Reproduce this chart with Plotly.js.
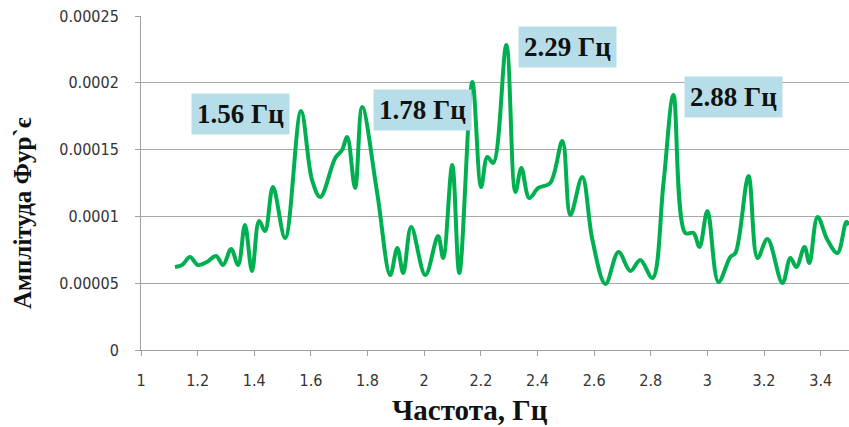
<!DOCTYPE html>
<html>
<head>
<meta charset="utf-8">
<script src="https://cdn.plot.ly/plotly-3.0.1.min.js"></script>
<style>
  html, body { margin: 0; padding: 0; background: #ffffff; }
  #chart { width: 849px; height: 427px; }
</style>
</head>
<body>
<div id="chart"></div>
<script>
// Fourier amplitude spectrum, frequency in Hz
const freq = [
  1.120, 1.145, 1.173, 1.201, 1.233, 1.265, 1.290, 1.318, 1.343, 1.367,
  1.392, 1.417, 1.438, 1.466, 1.509, 1.565, 1.604, 1.633, 1.686, 1.710,
  1.728, 1.756, 1.781, 1.834, 1.880, 1.905, 1.926, 1.954, 2.004, 2.049,
  2.067, 2.099, 2.124, 2.170, 2.201, 2.223, 2.244, 2.290, 2.322, 2.343,
  2.371, 2.403, 2.445, 2.488, 2.516, 2.558, 2.594, 2.640, 2.686, 2.728,
  2.763, 2.806, 2.845, 2.880, 2.922, 2.951, 2.972, 3.000, 3.039, 3.081,
  3.099, 3.145, 3.177, 3.212, 3.265, 3.293, 3.314, 3.343, 3.360, 3.389,
  3.424, 3.459, 3.491, 3.500
];
const amplitude = [
  6.21e-5, 6.36e-5, 6.96e-5, 6.36e-5, 6.59e-5, 7.04e-5, 6.36e-5, 7.56e-5, 6.36e-5, 9.36e-5,
  5.91e-5, 9.66e-5, 8.91e-5, 1.22e-4, 8.38e-5, 1.789e-4, 1.272e-4, 1.145e-4, 1.437e-4, 1.497e-4,
  1.594e-4, 1.213e-4, 1.819e-4, 1.175e-4, 5.61e-5, 7.63e-5, 5.76e-5, 9.21e-5, 5.61e-5, 8.53e-5,
  6.89e-5, 1.385e-4, 5.76e-5, 2.006e-4, 1.22e-4, 1.445e-4, 1.40e-4, 2.283e-4, 1.183e-4, 1.362e-4,
  1.138e-4, 1.213e-4, 1.25e-4, 1.564e-4, 1.01e-4, 1.295e-4, 8.23e-5, 4.94e-5, 7.34e-5, 5.91e-5,
  6.74e-5, 5.39e-5, 1.25e-4, 1.909e-4, 8.76e-5, 8.76e-5, 7.71e-5, 1.04e-4, 5.09e-5, 6.96e-5,
  7.26e-5, 1.302e-4, 6.89e-5, 8.31e-5, 5.01e-5, 6.89e-5, 6.21e-5, 7.71e-5, 6.51e-5, 9.96e-5,
  8.23e-5, 7.26e-5, 9.58e-5, 9.36e-5
];

// Axis ticks
const xTicks = [1, 1.2, 1.4, 1.6, 1.8, 2, 2.2, 2.4, 2.6, 2.8, 3, 3.2, 3.4];
const xTickText = ['1', '1.2', '1.4', '1.6', '1.8', '2', '2.2', '2.4', '2.6', '2.8', '3', '3.2', '3.4'];
const yTicks = [0, 0.00005, 0.0001, 0.00015, 0.0002, 0.00025];
const yTickText = ['0', '0.00005', '0.0001', '0.00015', '0.0002', '0.00025'];

// Axis titles
const xTitle = 'Частота, Гц';
const yTitle = 'Амплітуда Фур`є';

// Labelled peaks: text and box centre
const peakLabels = ['1.56 Гц', '1.78 Гц', '2.29 Гц', '2.88 Гц'];
const labelX = [1.350, 1.993, 2.505, 3.092];
const labelY = [1.766e-4, 1.796e-4, 2.268e-4, 1.894e-4];

const tickFont = { family: '"Liberation Sans Narrow", "DejaVu Sans Condensed", "Open Sans", sans-serif', size: 16, color: '#333333' };
const serifBold = '"Liberation Serif", "DejaVu Serif", serif';

const trace = {
  x: freq,
  y: amplitude,
  type: 'scatter',
  mode: 'lines',
  line: { color: '#00b050', width: 4, shape: 'spline', smoothing: 1 },
  hoverinfo: 'x+y'
};

const annotations = peakLabels.map((t, i) => ({
  x: labelX[i], y: labelY[i], xref: 'x', yref: 'y',
  text: '<b>' + t + '</b>',
  showarrow: false,
  bgcolor: '#b7dee8',
  borderpad: 5,
  font: { family: serifBold, size: 27, color: '#111111' }
}));

// Axis titles sit slightly off the plot centre, so they are placed as paper annotations
annotations.push({
  xref: 'paper', yref: 'paper', x: 0.4647, y: -0.18,
  xanchor: 'center', yanchor: 'middle', showarrow: false,
  text: '<b>' + xTitle + '</b>',
  font: { family: serifBold, size: 29, color: '#111111' }
});
annotations.push({
  xref: 'paper', yref: 'paper', x: -0.168, y: 0.41,
  xanchor: 'center', yanchor: 'middle', showarrow: false, textangle: -90,
  text: '<b>' + yTitle + '</b>',
  font: { family: serifBold, size: 25, color: '#111111' }
});

const layout = {
  width: 849, height: 427,
  margin: { l: 141, r: 0, t: 16, b: 77 },
  paper_bgcolor: '#ffffff',
  plot_bgcolor: '#ffffff',
  showlegend: false,
  xaxis: {
    range: [1, 3.5],
    tickmode: 'array', tickvals: xTicks, ticktext: xTickText,
    ticks: 'outside', ticklen: 5, tickcolor: '#a0a0a0',
    showline: true, linecolor: '#a0a0a0', linewidth: 1,
    showgrid: false, zeroline: false,
    tickfont: tickFont,
    ticklabelstandoff: 11
  },
  yaxis: {
    range: [0, 0.00025],
    tickmode: 'array', tickvals: yTicks, ticktext: yTickText,
    ticks: 'outside', ticklen: 5, tickcolor: '#a0a0a0',
    showline: true, linecolor: '#a0a0a0', linewidth: 1,
    showgrid: true, gridcolor: '#a8a8a8', gridwidth: 1,
    zeroline: false,
    tickfont: tickFont,
    ticklabelstandoff: 13
  },
  annotations: annotations
};

Plotly.newPlot('chart', [trace], layout, { staticPlot: true, displayModeBar: false });
</script>
</body>
</html>
